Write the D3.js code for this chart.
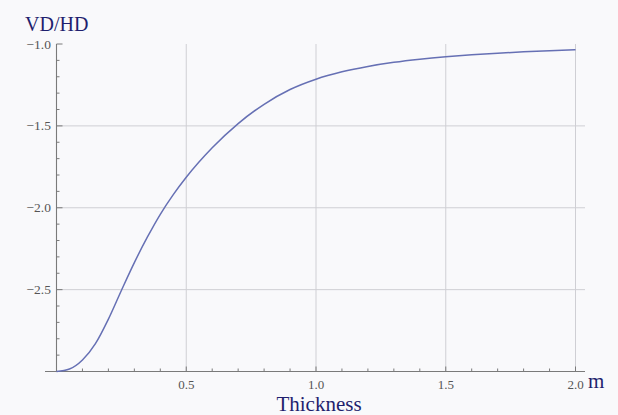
<!DOCTYPE html>
<html><head><meta charset="utf-8">
<script src="https://cdn.jsdelivr.net/npm/d3@7"></script>
<style>html,body{margin:0;padding:0;background:#f9f9fb;}svg{display:block;}</style>
</head><body>
<svg id="c" width="618" height="415"></svg>
<script>
const thickness = [0,0.05,0.10,0.15,0.20,0.25,0.30,0.35,0.40,0.45,0.50,0.60,0.70,0.80,0.90,1.00,1.10,1.20,1.30,1.40,1.50,1.60,1.70,1.80,1.90,2.00];
const ratio = [-3.000,-2.985,-2.930,-2.830,-2.680,-2.505,-2.335,-2.180,-2.040,-1.920,-1.814,-1.634,-1.486,-1.368,-1.278,-1.215,-1.170,-1.137,-1.112,-1.093,-1.078,-1.066,-1.056,-1.048,-1.041,-1.035];
const xTicks = [0.5,1.0,1.5,2.0];
const yTicks = [-1.0,-1.5,-2.0,-2.5];
const xMinor = d3.range(1,21).map(i=>i/10);
const yMinor = d3.range(0,21).map(i=>-3+i/10);

const svg = d3.select("#c");
const x = d3.scaleLinear().domain([0,2]).range([56.5,575.5]);
const y = d3.scaleLinear().domain([-3,-1]).range([371.5,44]);
const serif = "'Liberation Serif','Times New Roman',serif";

svg.append("rect").attr("width",618).attr("height",415).attr("fill","#f9f9fb");

// grid
svg.append("g").selectAll("line").data(xTicks).join("line")
  .attr("x1",d=>x(d)).attr("x2",d=>x(d)).attr("y1",y(-1)).attr("y2",y(-3))
  .attr("stroke","#cfcfd4").attr("stroke-width",1);
svg.append("g").selectAll("line").data(yTicks.filter(d=>d>-3&&d<-1)).join("line")
  .attr("x1",x(0)).attr("x2",585).attr("y1",d=>y(d)).attr("y2",d=>y(d))
  .attr("stroke","#cfcfd4").attr("stroke-width",1);

// axes lines
svg.append("line").attr("x1",45).attr("x2",585).attr("y1",y(-3)).attr("y2",y(-3)).attr("stroke","#7a7a7a").attr("stroke-width",1.1);
svg.append("line").attr("x1",x(0)).attr("x2",x(0)).attr("y1",y(-3)).attr("y2",y(-1)).attr("stroke","#7a7a7a").attr("stroke-width",1.1);

// x ticks
svg.append("g").selectAll("line").data(xMinor).join("line")
  .attr("x1",d=>x(d)).attr("x2",d=>x(d)).attr("y1",y(-3))
  .attr("y2",d=>y(-3)-(xTicks.some(t=>Math.abs(t-d)<1e-9)?5:3))
  .attr("stroke","#7a7a7a");
svg.append("g").selectAll("text").data(xTicks).join("text")
  .attr("x",d=>x(d)).attr("y",389).attr("text-anchor","middle")
  .attr("font-family",serif).attr("font-size",13).attr("fill","#555")
  .text(d=>d3.format(".1f")(d));

// y ticks
svg.append("g").selectAll("line").data(yMinor).join("line")
  .attr("y1",d=>y(d)).attr("y2",d=>y(d)).attr("x1",x(0))
  .attr("x2",d=>x(0)+(yTicks.some(t=>Math.abs(t-d)<1e-9)?6:3))
  .attr("stroke","#7a7a7a");
svg.append("g").selectAll("text").data(yTicks).join("text")
  .attr("x",51).attr("y",d=>y(d)+4.5).attr("text-anchor","end")
  .attr("font-family",serif).attr("font-size",13.5).attr("fill","#555")
  .text(d=>"\u2212"+d3.format(".1f")(-d));

// curve
const line = d3.line().x((d,i)=>x(thickness[i])).y(d=>y(d)).curve(d3.curveMonotoneX);
svg.append("path").datum(ratio).attr("d",line).attr("fill","none")
  .attr("stroke","#6670b4").attr("stroke-width",1.5);

// labels
svg.append("text").attr("x",25).attr("y",31).attr("font-family",serif).attr("font-size",20)
  .attr("fill","#1f1f6e").text("VD/HD");
svg.append("text").attr("x",319).attr("y",411).attr("text-anchor","middle").attr("font-family",serif)
  .attr("font-size",21).attr("fill","#1f1f6e").text("Thickness");
svg.append("text").attr("x",588).attr("y",388).attr("font-family",serif).attr("font-size",21)
  .attr("fill","#1f1f6e").text("m");
</script>
</body></html>
